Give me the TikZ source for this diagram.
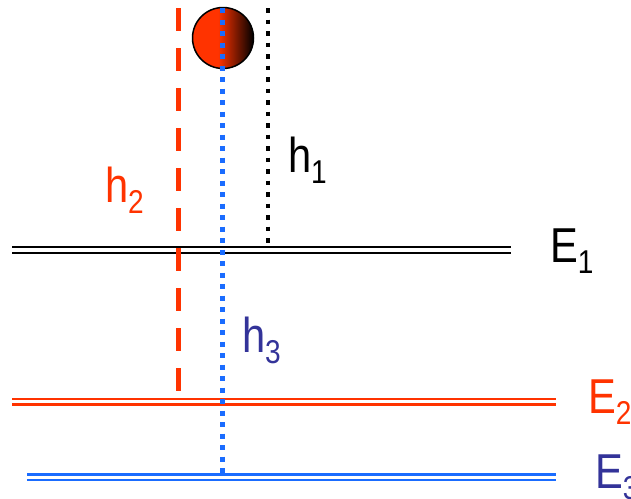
\documentclass[tikz,border=0pt]{standalone}
\usepackage{fontspec}
\setmainfont{Liberation Sans}
\usepackage{graphicx}
\definecolor{myred}{HTML}{FF3300}
\definecolor{myblue}{HTML}{1A6CFF}
\definecolor{mynavy}{HTML}{333399}
\pgfdeclarehorizontalshading{ballshade}{100bp}{color(0bp)=(myred); color(25bp)=(myred); color(46bp)=(myred); color(75bp)=(black); color(100bp)=(black)}
\newcommand\lbl[2]{\scalebox{0.85}[1]{\fontsize{49}{49}\selectfont #1\raisebox{-11pt}{\fontsize{33}{33}\selectfont #2}}}
\begin{document}
\begin{tikzpicture}[x=1pt,y=-1pt,
  level/.style={double, line width=2.3pt, double distance=3.1pt},
  lab/.style={anchor=base west, inner sep=0pt, outer sep=0pt},
  reddash/.style={myred, line width=5pt, dash pattern=on 23pt off 17pt},
  bluedot/.style={myblue, line width=5pt, dash pattern=on 5pt off 6.5pt},
  blackdot/.style={black, line width=4.5pt, dash pattern=on 4.5pt off 7pt}]
\useasboundingbox (0,0) rectangle (631,498);
% levels
\coordinate (e1a) at (12,250);   \coordinate (e1b) at (511,250);
\coordinate (e2a) at (12,401.7); \coordinate (e2b) at (556,401.7);
\coordinate (e3a) at (27,477.2); \coordinate (e3b) at (556,477.2);
\draw[level, black] (e1a) -- (e1b);
\draw[level, myred] (e2a) -- (e2b);
\draw[level, myblue] (e3a) -- (e3b);
% verticals
\coordinate (r0) at (178,8);  \coordinate (r1) at (178,392);
\coordinate (b0) at (222,8);  \coordinate (b1) at (222,473);
\coordinate (k0) at (268,8);  \coordinate (k1) at (268,244);
\draw[reddash] (r0) -- (r1);
\draw[blackdot] (k0) -- (k1);
% ball
\node[circle, minimum size=61pt, inner sep=0pt, draw=black, line width=1.5pt, shading=ballshade] (ball) at (223,38) {};
\draw[bluedot] (b0) -- (b1);
% labels
\node[lab] (h1) at (288,172) {\lbl{h}{1}};
\node[lab, text=myred] (h2) at (105,202) {\lbl{h}{2}};
\node[lab, text=mynavy] (h3) at (242,352) {\lbl{h}{3}};
\node[lab] (E1) at (550,262) {\lbl{E}{1}};
\node[lab, text=myred] (E2) at (588,413) {\lbl{E}{2}};
\node[lab, text=mynavy] (E3) at (595,488) {\lbl{E}{3}};
\end{tikzpicture}
\end{document}
